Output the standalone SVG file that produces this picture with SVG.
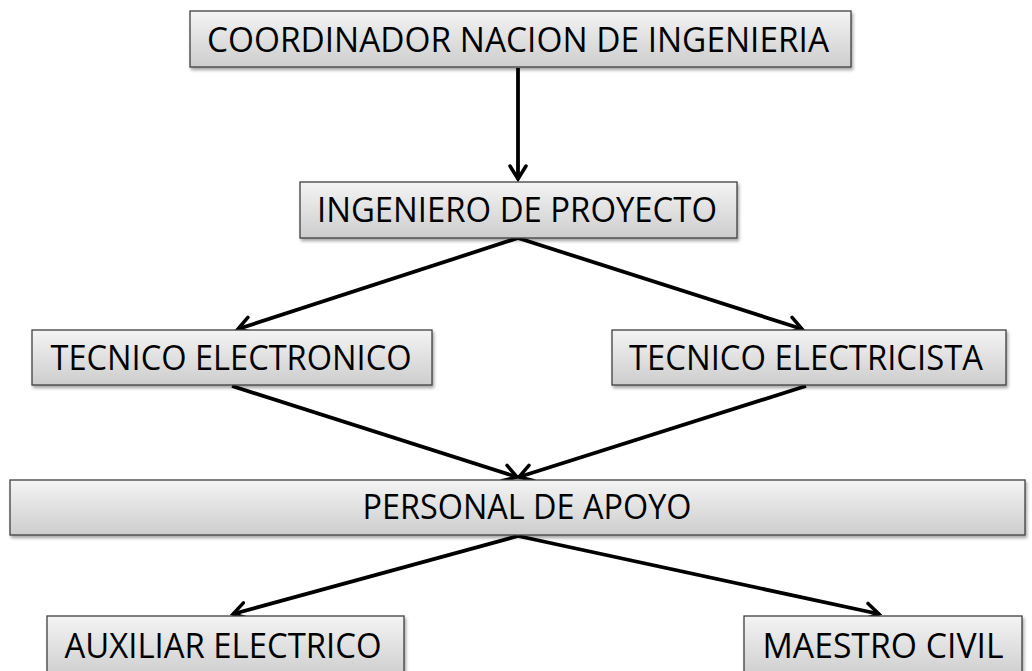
<svg xmlns="http://www.w3.org/2000/svg" width="1032" height="671" viewBox="0 0 1032 671">
<defs>
<linearGradient id="g" x1="0" y1="0" x2="0" y2="1">
<stop offset="0" stop-color="#f4f4f4"/>
<stop offset="1" stop-color="#cdcdcd"/>
</linearGradient>
<filter id="sh" x="-5%" y="-20%" width="110%" height="150%">
<feDropShadow dx="1.5" dy="2.5" stdDeviation="1.5" flood-color="#000" flood-opacity="0.35"/>
</filter>
<marker id="ah" viewBox="0 0 18 20" refX="15" refY="10" markerWidth="18" markerHeight="20" markerUnits="userSpaceOnUse" orient="auto">
<path d="M2,2 L15,10 L2,18" fill="none" stroke="#000" stroke-width="3.5" stroke-linecap="round" stroke-linejoin="miter"/>
</marker>
</defs>
<style>
.box{fill:url(#g);stroke:#404040;stroke-width:1.3;filter:url(#sh)}
.t{font-family:"Open Sans","Liberation Sans",sans-serif;font-size:34px;fill:#000;text-anchor:middle}
.c{stroke:#000;stroke-width:3.8;fill:none;marker-end:url(#ah)}
</style>
<g id="connectors">
<line class="c" x1="518" y1="68" x2="518" y2="179"/>
<line class="c" x1="518" y1="238" x2="238" y2="329"/>
<line class="c" x1="518" y1="238" x2="802" y2="329"/>
<line class="c" x1="232" y1="386" x2="517" y2="477"/>
<line class="c" x1="806" y1="386" x2="519" y2="477"/>
<line class="c" x1="518" y1="536" x2="233" y2="614"/>
<line class="c" x1="518" y1="536" x2="879" y2="614"/>
</g>
<g id="n1"><rect class="box" x="190" y="11" width="661" height="56"/><text class="t" x="518" y="52" textLength="622" lengthAdjust="spacingAndGlyphs">COORDINADOR NACION DE INGENIERIA</text></g>
<g id="n2"><rect class="box" x="300" y="182" width="437" height="56"/><text class="t" x="517" y="222" textLength="400" lengthAdjust="spacingAndGlyphs">INGENIERO DE PROYECTO</text></g>
<g id="n3"><rect class="box" x="32" y="330" width="400" height="55"/><text class="t" x="231" y="370" textLength="361" lengthAdjust="spacingAndGlyphs">TECNICO ELECTRONICO</text></g>
<g id="n4"><rect class="box" x="612" y="330" width="394" height="55"/><text class="t" x="806" y="370" textLength="354" lengthAdjust="spacingAndGlyphs">TECNICO ELECTRICISTA</text></g>
<g id="n5"><rect class="box" x="10" y="480" width="1015" height="55"/><text class="t" x="527" y="519" textLength="329" lengthAdjust="spacingAndGlyphs">PERSONAL DE APOYO</text></g>
<g id="n6"><rect class="box" x="47" y="616" width="357" height="62"/><text class="t" x="223" y="658" textLength="317" lengthAdjust="spacingAndGlyphs">AUXILIAR ELECTRICO</text></g>
<g id="n7"><rect class="box" x="744" y="616" width="278" height="62"/><text class="t" x="883" y="658" textLength="241" lengthAdjust="spacingAndGlyphs">MAESTRO CIVIL</text></g>
</svg>
